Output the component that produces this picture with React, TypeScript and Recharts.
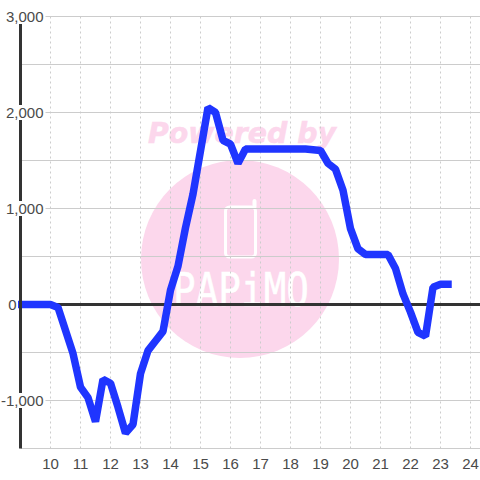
import React from "react";
import { LineChart, Line, XAxis, YAxis, CartesianGrid, ReferenceLine } from "recharts";

const hours = [9, 10, 10.25, 10.5, 10.75, 11, 11.25, 11.5, 11.75, 12, 12.25, 12.5, 12.75, 13, 13.25, 13.5, 13.75, 14, 14.25, 14.5, 14.75, 15, 15.25, 15.5, 15.75, 16, 16.25, 16.5, 18.5, 19, 19.25, 19.5, 19.75, 20, 20.25, 20.5, 21.25, 21.5, 21.75, 22, 22.25, 22.5, 22.75, 23, 23.25];
const values = [0, 0, -30, -270, -510, -860, -970, -1220, -780, -820, -1070, -1340, -1250, -720, -480, -380, -280, 150, 400, 800, 1150, 1600, 2050, 2000, 1710, 1670, 1470, 1620, 1620, 1605, 1470, 1410, 1190, 790, 580, 520, 520, 375, 110, -80, -290, -330, 180, 210, 210];
const xTicks = [10, 11, 12, 13, 14, 15, 16, 17, 18, 19, 20, 21, 22, 23, 24];
const yTicks = [-1500, -1000, -500, 0, 500, 1000, 1500, 2000, 2500, 3000];
const labelled = [-1000, 0, 1000, 2000, 3000];
const data = hours.map((h, i) => ({ h, v: values[i] }));

const YTick = (props: any) => {
  const { y, payload } = props;
  if (!labelled.includes(payload.value)) return <g />;
  const isZero = payload.value === 0;
  const right = isZero ? 16.5 : 43.5;
  const rectX = isZero ? 6 : 2;
  const rectW = isZero ? 12 : 43.5;
  return (
    <g>
      <rect x={rectX} y={y - 7.5} width={rectW} height={15} fill="#fff" />
      <text x={right} y={y + 5} textAnchor="end" fontSize={15} fill="#4a4a4a" fontFamily="Liberation Sans">
        {payload.value.toLocaleString("en-US")}
      </text>
    </g>
  );
};

export default function App() {
  return (
    <div style={{ position: "absolute", left: 0, top: 0, width: 480, height: 480, background: "#fff", overflow: "hidden" }}>
      <svg width={480} height={480} style={{ position: "absolute", left: 0, top: 0 }}>
        <circle cx={240} cy={259} r={99} fill="#fcd7ec" />
        <text x={148} y={143} textLength={188} lengthAdjust="spacingAndGlyphs" fontSize={29} fontWeight="bold" fontStyle="italic" fill="#fcd7ec" stroke="#fcd7ec" strokeWidth={0.6} fontFamily="DejaVu Sans">Powered by</text>
        <rect x={225.5} y={207} width={30} height={50} rx={4} fill="none" stroke="#fff" strokeWidth={3} />
        <line x1={254.5} y1={207} x2={254.5} y2={201} stroke="#fff" strokeWidth={4} strokeLinecap="round" />
        <text x={173} y={306} textLength={136} lengthAdjust="spacingAndGlyphs" fontSize={46} fill="#fff" stroke="#fff" strokeWidth={0.5} fontFamily="DejaVu Sans Mono">PAPiMO</text>
      </svg>
      <div style={{ position: "absolute", left: 0, top: 0 }}>
        <LineChart width={480} height={480} data={data} margin={{ top: 16.5, right: 0, bottom: 0, left: 0 }}>
          <CartesianGrid stroke="#ccc" horizontalValues={yTicks} vertical={false} />
          <CartesianGrid stroke="#ccc" strokeDasharray="2 3" horizontal={false} verticalValues={xTicks} />
          <XAxis dataKey="h" type="number" domain={[9, 24.3167]} ticks={xTicks} height={31.5} axisLine={false} tickLine={false} interval={0} tick={{ fontSize: 15, fill: "#4a4a4a", fontFamily: "Liberation Sans" }} tickMargin={4} />
          <YAxis type="number" domain={[-1500, 3000]} ticks={yTicks} width={20.5} interval={0} axisLine={{ stroke: "#333", strokeWidth: 3 }} tickLine={false} tick={<YTick />} />
          <ReferenceLine y={0} stroke="#333" strokeWidth={3} />
          <Line dataKey="v" stroke="#1f35ff" strokeWidth={7.5} dot={false} strokeLinecap="square" strokeLinejoin="bevel" isAnimationActive={false} />
        </LineChart>
      </div>
    </div>
  );
}
